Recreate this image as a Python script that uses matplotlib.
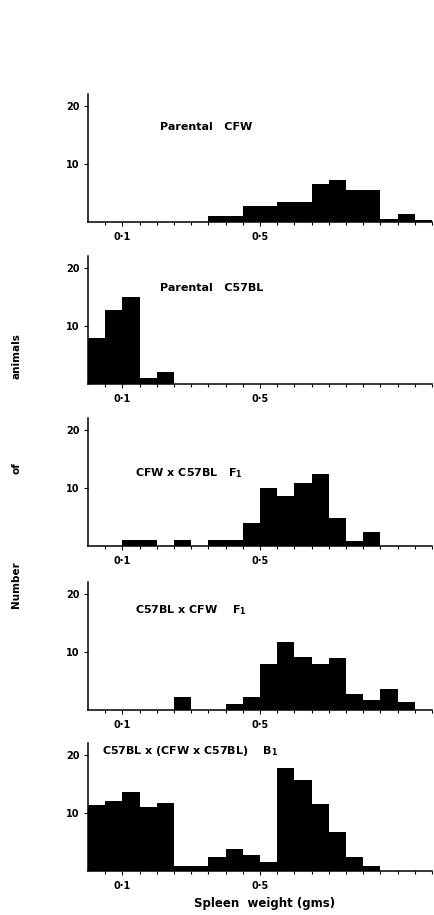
import numpy as np
import matplotlib
matplotlib.use("Agg")
import matplotlib.pyplot as plt

plt.rcParams['font.family'] = ['DejaVu Sans']
plt.rcParams['font.weight'] = 'bold'
plt.rcParams['mathtext.default'] = 'bf'

# left edges of the 0.05 gm classes
bin_left = [0.00, 0.05, 0.10, 0.15, 0.20, 0.25, 0.30, 0.35, 0.40, 0.45,
            0.50, 0.55, 0.60, 0.65, 0.70, 0.75, 0.80, 0.85, 0.90, 0.95]
bin_width = 0.05

cfw = [0, 0, 0, 0, 0, 0, 0, 1.0, 1.0, 2.8, 2.8, 3.4, 3.4, 6.6, 7.3, 5.5, 5.5, 0.6, 1.3, 0.4]
c57bl = [8.0, 12.7, 15.0, 1.0, 2.0, 0, 0, 0, 0, 0, 0, 0, 0, 0, 0, 0, 0, 0, 0, 0]
cfw_x_c57 = [0, 0, 1.0, 1.0, 0, 1.0, 0, 1.0, 1.0, 4.0, 10.0, 8.7, 10.8, 12.5, 4.8, 0.8, 2.5, 0, 0, 0]
c57_x_cfw = [0, 0, 0, 0, 0, 2.3, 0, 0, 1.0, 2.3, 7.9, 11.8, 9.1, 7.9, 9.0, 2.7, 1.7, 3.6, 1.4, 0]
backcross = [11.3, 12.0, 13.6, 11.1, 11.8, 0.9, 0.9, 2.5, 3.8, 2.7, 1.6, 17.8, 15.7, 11.6, 6.8, 2.4, 0.9, 0, 0, 0]

series = [cfw, c57bl, cfw_x_c57, c57_x_cfw, backcross]
titles = ['Parental   CFW', 'Parental   C57BL', 'CFW x C57BL   F$_1$',
          'C57BL x CFW    F$_1$', 'C57BL x (CFW x C57BL)    B$_1$']
title_pos = [(0.21, 16.3), (0.21, 16.6), (0.137, 12.6), (0.137, 17.2), (0.04, 20.7)]

W, H = 434, 915
fig = plt.figure(figsize=(W / 100, H / 100), dpi=100)

baselines = [222, 384, 546, 710, 871]
x0, x1 = 88, 432
ymax = 22
px_per_unit = 5.8

for k in range(5):
    h = ymax * px_per_unit
    ax = fig.add_axes([x0 / W, 1 - baselines[k] / H, (x1 - x0) / W, h / H])
    ax.bar(bin_left, series[k], width=bin_width, align='edge', color='black', linewidth=0)
    ax.set_xlim(0, 1.0)
    ax.set_ylim(0, ymax)
    ax.spines['top'].set_visible(False)
    ax.spines['right'].set_visible(False)
    for s in ['left', 'bottom']:
        ax.spines[s].set_linewidth(1.1)
    ax.set_yticks([10, 20])
    ax.set_yticklabels(['10', '20'], fontsize=7, fontweight='bold')
    ax.set_xticks([0.1, 0.5])
    ax.set_xticklabels(['0·1', '0·5'], fontsize=7, fontweight='bold')
    ax.set_xticks(bin_left[1:] + [1.0], minor=True)
    ax.tick_params(axis='y', which='major', length=3, width=0.8, pad=3)
    ax.tick_params(axis='x', which='major', length=3, width=0.8, pad=4)
    ax.tick_params(axis='x', which='minor', length=2.5, width=0.8)
    tx, ty = title_pos[k]
    ax.text(tx, ty, titles[k], fontsize=8, fontweight='bold', va='center', ha='left')

fig.text(265 / W, 1 - 904 / H, 'Spleen  weight (gms)', fontsize=8.5, fontweight='bold',
         ha='center', va='center')

# y label words are widely spaced in the original
for word, yc in [('Number', 585), ('of', 468), ('animals', 356)]:
    fig.text(16 / W, 1 - yc / H, word, rotation=90, fontsize=7.5, fontweight='bold',
             ha='center', va='center')

fig.savefig('out.png', dpi=100)
